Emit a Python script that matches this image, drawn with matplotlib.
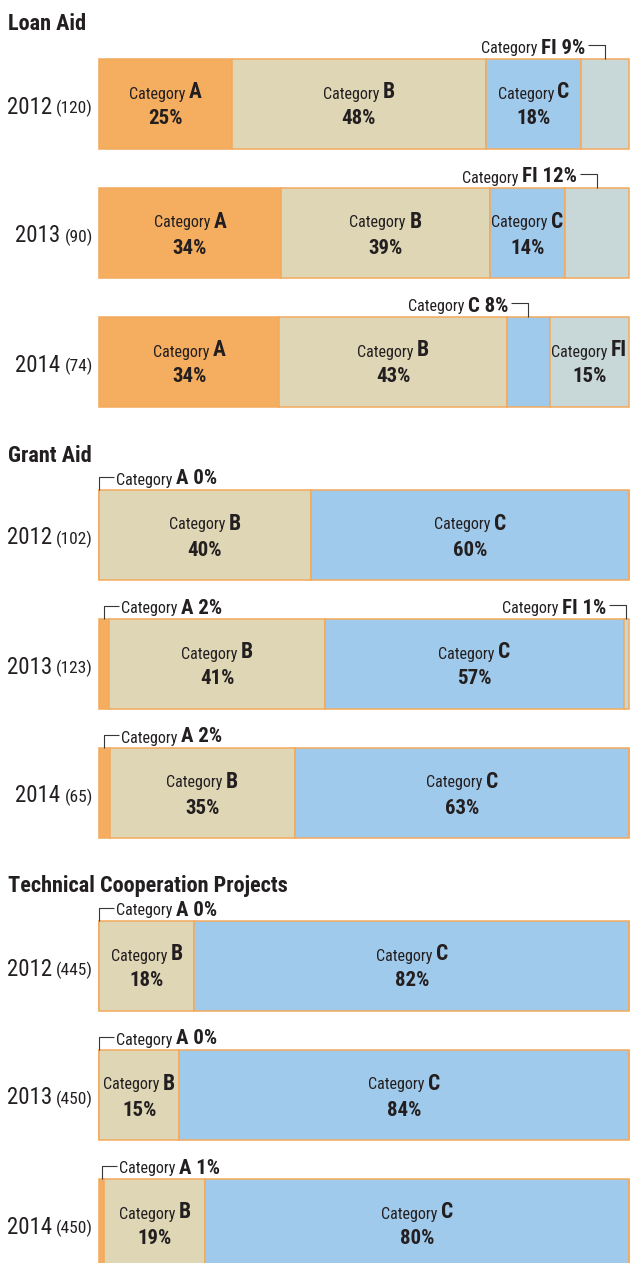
import matplotlib
matplotlib.use('Agg')
import matplotlib.pyplot as plt
from matplotlib import font_manager, transforms
from matplotlib.lines import Line2D

W, H, DPI = 631, 1263, 100

def pick(fams):
    for f in fams:
        try:
            font_manager.findfont(font_manager.FontProperties(family=f), fallback_to_default=False)
            return f
        except Exception:
            pass
    return 'DejaVu Sans'

FONT = pick(['Liberation Sans Narrow', 'Roboto Condensed', 'DejaVu Sans Condensed', 'Liberation Sans'])
TXT = '#231F20'

# ---------------- data ----------------
sections = ["Loan Aid", "Grant Aid", "Technical Cooperation Projects"]
years = ["2012", "2013", "2014"]
categories = ["A", "B", "C", "FI"]

loan_counts = [120, 90, 74]
grant_counts = [102, 123, 65]
tc_counts = [445, 450, 450]

loan_A = [25, 34, 34]
loan_B = [48, 39, 43]
loan_C = [18, 14, 8]
loan_FI = [9, 12, 15]

grant_A = [0, 2, 2]
grant_B = [40, 41, 35]
grant_C = [60, 57, 63]
grant_FI = [0, 1, 0]

tc_A = [0, 0, 1]
tc_B = [18, 15, 19]
tc_C = [82, 84, 80]
tc_FI = [0, 0, 0]

section_counts = [loan_counts, grant_counts, tc_counts]
section_values = [
    [loan_A, loan_B, loan_C, loan_FI],
    [grant_A, grant_B, grant_C, grant_FI],
    [tc_A, tc_B, tc_C, tc_FI],
]

# segments labelled outside the bar: (section, year index, category)
outside_labels = [(0, 0, "FI"), (0, 1, "FI"), (0, 2, "C"),
                  (1, 0, "A"), (1, 1, "A"), (1, 1, "FI"), (1, 2, "A"),
                  (2, 0, "A"), (2, 1, "A"), (2, 2, "A")]

colors = {"A": "#F5AE5F", "B": "#DFD6B6", "C": "#A0CAEB", "FI": "#C8D7D8"}
EDGE = '#F2AA5C'

# ---------------- layout (pixels) ----------------
title_baselines = [30, 462, 892]
bar_tops = [[59, 188, 317], [490, 619, 748], [921, 1050, 1179]]
BAR_H = 90
BAR_L, BAR_R = 99, 629

SZ_CAT = 11.5
SZ_LET = 15.5
SZ_PCT = 15
SZ_OUT = 15
SZ_YEAR = 16.5
SZ_CNT = 12.5

fig = plt.figure(figsize=(W / DPI, H / DPI), dpi=DPI)
fig.patch.set_facecolor('white')
renderer = fig.canvas.get_renderer()


def rich(ax, trans, x, y, parts, ha='center', dx=0.0, dy=0.0, gap=3.5):
    texts = []
    for s, size, weight in parts:
        t = ax.text(x, y, s, fontsize=size, fontweight=weight, transform=trans,
                    ha='left', va='baseline', color=TXT, family=FONT, clip_on=False)
        texts.append(t)
    widths = [t.get_window_extent(renderer).width for t in texts]
    total = sum(widths) + gap * (len(widths) - 1)
    start = {'left': 0.0, 'center': -total / 2, 'right': -total}[ha] + dx
    off = start
    for t, w in zip(texts, widths):
        t.set_transform(trans + transforms.ScaledTranslation(off / DPI, dy / DPI, fig.dpi_scale_trans))
        off += w + gap
    return texts


def fig_line(xs_px, ys_px):
    fig.add_artist(Line2D([x / W for x in xs_px], [1 - y / H for y in ys_px],
                          transform=fig.transFigure, color='#3a3636', lw=0.8,
                          solid_capstyle='butt'))


for si, name in enumerate(sections):
    fig.text(8 / W, 1 - title_baselines[si] / H, name, fontsize=16, fontweight='bold',
             family=FONT, color=TXT, va='baseline', ha='left')
    vals = section_values[si]
    for yi, year in enumerate(years):
        top = bar_tops[si][yi]
        ax = fig.add_axes([BAR_L / W, 1 - (top + BAR_H) / H, (BAR_R - BAR_L) / W, BAR_H / H])
        ax.set_axis_off()
        row = [vals[ci][yi] for ci in range(len(categories))]
        total = sum(row)
        left = 0
        lefts = []
        for ci, cat in enumerate(categories):
            lefts.append(left)
            ax.barh(0.5, row[ci], left=left, height=1.0, color=colors[cat],
                    edgecolor=EDGE, linewidth=1.1, clip_on=False)
            left += row[ci]
        ax.set_xlim(0, total)
        ax.set_ylim(0, 1)

        xt = ax.get_xaxis_transform()
        # year label
        rich(ax, ax.transAxes, 0, 0.5,
             [(year, SZ_YEAR, 'normal'), ("(%d)" % section_counts[si][yi], SZ_CNT, 'normal')],
             ha='right', dx=-6, dy=-9.5, gap=4)

        for ci, cat in enumerate(categories):
            v = row[ci]
            xc = lefts[ci] + v / 2
            if (si, yi, cat) in outside_labels:
                px = ax.transData.transform((xc, 0))[0]
                if cat == "A":
                    fig_line([px, px, px + 15], [top, top - 13, top - 13])
                    rich(ax, xt, xc, 1.0,
                         [("Category", SZ_CAT, 'normal'), ("%s %d%%" % (cat, v), SZ_OUT, 'bold')],
                         ha='left', dx=17, dy=5.5)
                else:
                    fig_line([px - 17, px, px], [top - 14, top - 14, top])
                    rich(ax, xt, xc, 1.0,
                         [("Category", SZ_CAT, 'normal'), ("%s %d%%" % (cat, v), SZ_OUT, 'bold')],
                         ha='right', dx=-20, dy=5.5)
            elif v > 0:
                rich(ax, xt, xc, 0.5, [("Category", SZ_CAT, 'normal'), (cat, SZ_LET, 'bold')],
                     ha='center', dy=5.5)
                rich(ax, xt, xc, 0.5, [("%d%%" % v, SZ_PCT, 'bold')], ha='center', dy=-20.5)

fig.savefig('out.png', dpi=DPI, facecolor='white')
